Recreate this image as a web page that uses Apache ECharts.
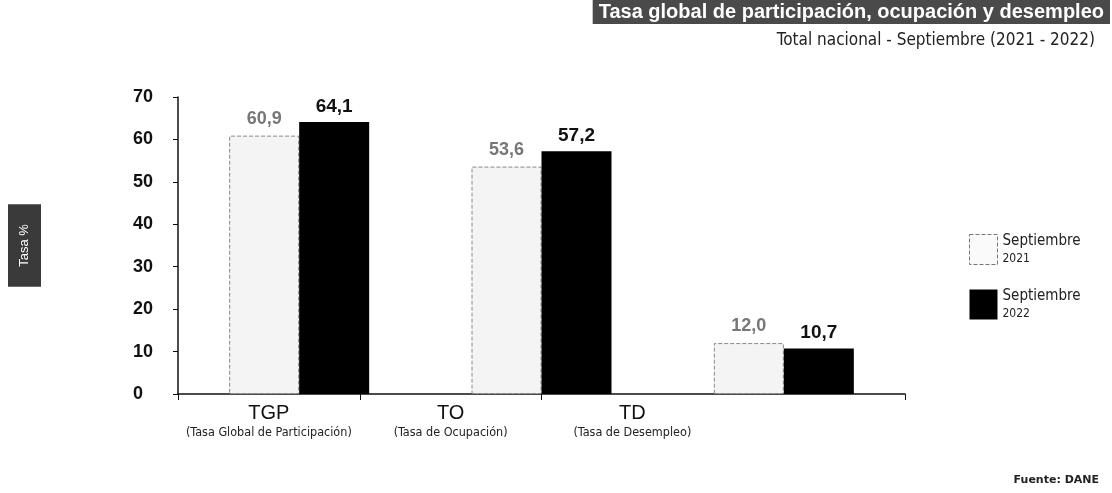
<!DOCTYPE html>
<html>
<head>
<meta charset="utf-8">
<script src="https://cdn.jsdelivr.net/npm/echarts@6/dist/echarts.min.js"></script>
<style>html,body{margin:0;padding:0;background:#fff}#c{width:1112px;height:493px}</style>
</head>
<body>
<div id="c"></div>
<script>
var categories = ['TGP', 'TO', 'TD'];
var axisCodes = ['TGP', 'TO', 'TD', ''];
var axisNames = ['(Tasa Global de Participación)', '(Tasa de Ocupación)', '(Tasa de Desempleo)', ''];
var seriesNames = ['Septiembre 2021', 'Septiembre 2022'];
var sep2021 = [60.9, 53.6, 12.0];
var sep2022 = [64.1, 57.2, 10.7];
var yTicks = [0, 10, 20, 30, 40, 50, 60, 70];

var chart = echarts.init(document.getElementById('c'));
function fmt(p) { return p.value.toFixed(1).replace('.', ','); }
chart.setOption({
  animation: false,
  backgroundColor: '#fff',
  title: [
    { text: 'Tasa global de participación, ocupación y desempleo', right: 2, top: 0,
      backgroundColor: '#4a4a4a', padding: [2, 6],
      textStyle: { color: '#fff', fontSize: 20, fontWeight: 'bold', fontFamily: 'Liberation Sans' } },
    { text: 'Total nacional - Septiembre (2021 - 2022)', right: 12, top: 27,
      textStyle: { color: '#222', fontSize: 17, fontWeight: 'normal', fontFamily: 'DejaVu Sans Condensed, DejaVu Sans' } },
    { text: 'Fuente: DANE', right: 8, top: 470,
      textStyle: { color: '#222', fontSize: 11, fontWeight: 'bold', fontFamily: 'DejaVu Sans' } }
  ],
  legend: {
    orient: 'vertical', left: 964, top: 229,
    itemWidth: 28, itemHeight: 30, itemGap: 24, icon: 'rect',
    data: [
      { name: seriesNames[0], itemStyle: { color: '#fafafa', borderColor: '#777', borderWidth: 1, borderType: 'dashed' } },
      { name: seriesNames[1] }
    ],
    formatter: function (n) { var p = n.split(' '); return '{a|' + p[0] + '}\n{b|' + p[1] + '}'; },
    textStyle: {
      rich: {
        a: { fontSize: 15, color: '#222', fontFamily: 'DejaVu Sans Condensed, DejaVu Sans', lineHeight: 18 },
        b: { fontSize: 12, color: '#222', fontFamily: 'DejaVu Sans Condensed, DejaVu Sans', lineHeight: 16 }
      }
    }
  },
  grid: { left: 178, right: 207, top: 97, bottom: 99, containLabel: false, outerBoundsMode: 'none' },
  xAxis: [
    { type: 'category', data: categories, show: false },
    { type: 'category', data: axisCodes, position: 'bottom',
      axisLine: { lineStyle: { color: '#111', width: 1.5 } },
      axisTick: { show: true, length: 6, lineStyle: { color: '#111' },
        interval: function (i) { return i !== 3; } },
      axisLabel: { interval: 0, margin: 8,
        formatter: function (v, i) { return '{a|' + v + '}\n{b|' + axisNames[i] + '}'; },
        rich: {
          a: { fontSize: 20, color: '#111', fontFamily: 'Liberation Sans', lineHeight: 22 },
          b: { fontSize: 12.5, color: '#222', fontFamily: 'DejaVu Sans Condensed, DejaVu Sans', lineHeight: 18 }
        } } }
  ],
  yAxis: {
    type: 'value', min: yTicks[0], max: yTicks[yTicks.length - 1], interval: 10,
    name: 'Tasa %', nameLocation: 'middle', nameRotate: 90, nameGap: 137,
    nameTextStyle: { color: '#fff', backgroundColor: '#3a3a3a', padding: [10, 20], fontSize: 13, fontFamily: 'Liberation Sans' },
    axisLine: { show: true, lineStyle: { color: '#111', width: 1.5 } },
    axisTick: { show: true, length: 5, lineStyle: { color: '#111' } },
    splitLine: { show: false },
    axisLabel: { align: 'left', margin: 45, color: '#111', fontSize: 18, fontWeight: 'bold', fontFamily: 'Liberation Sans' }
  },
  series: [
    { name: seriesNames[0], type: 'bar', xAxisIndex: 0, data: sep2021, barWidth: 70, barGap: '0%',
      itemStyle: { color: '#f4f4f4', borderColor: '#888', borderWidth: 1, borderType: 'dashed' },
      label: { show: true, position: 'top', distance: 8, formatter: fmt, color: '#777', fontSize: 18, fontWeight: 'bold', fontFamily: 'Liberation Sans' } },
    { name: seriesNames[1], type: 'bar', xAxisIndex: 0, data: sep2022, barWidth: 70, barGap: '0%',
      itemStyle: { color: '#000' },
      label: { show: true, position: 'top', distance: 6, formatter: fmt, color: '#111', fontSize: 19, fontWeight: 'bold', fontFamily: 'Liberation Sans' } }
  ]
});
</script>
</body>
</html>
